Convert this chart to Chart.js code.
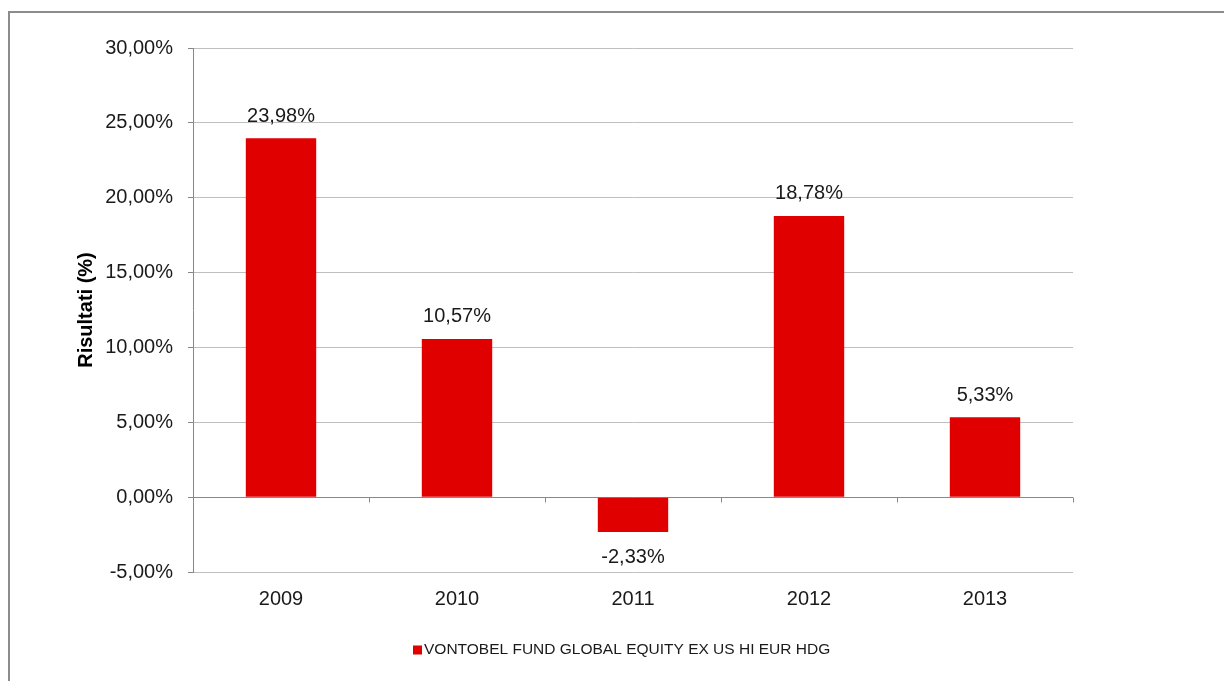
<!DOCTYPE html>
<html>
<head>
<meta charset="utf-8">
<script src="https://cdn.jsdelivr.net/npm/chart.js@4"></script>
<style>
  html, body { margin: 0; padding: 0; background: #fff; }
  #wrap { width: 1224px; height: 681px; }
</style>
</head>
<body>
<div id="wrap"><canvas id="canvas-1" width="1224" height="681"></canvas></div>
<script>
const anni = ['2009', '2010', '2011', '2012', '2013'];
const risultati = [23.98, 10.57, -2.33, 18.78, 5.33];
const nomeSerie = 'VONTOBEL FUND GLOBAL EQUITY EX US HI EUR HDG';
const yMin = -5, yMax = 30, yStep = 5;

const font = '"Liberation Sans", Arial, sans-serif';
const rosso = '#e00000';

function fmt(v) {
    return v.toFixed(2).replace('.', ',') + '%';
}

// cornice grigia attorno al grafico
const cornice = {
    id: 'cornice',
    beforeDraw(c) {
        const ctx = c.ctx;
        ctx.save();
        ctx.strokeStyle = '#8c8c8c';
        ctx.lineWidth = 2;
        ctx.strokeRect(9, 12, 1400, 1000);
        ctx.restore();
    }
};

// tacche sull'asse dello zero + etichette dei valori + legenda
const extra = {
    id: 'extra',
    afterDatasetsDraw(c) {
        const ctx = c.ctx, x = c.scales.x, y = c.scales.y;
        const y0 = Math.round(y.getPixelForValue(0)) + 0.5;
        ctx.save();
        ctx.strokeStyle = '#888';
        ctx.lineWidth = 1;
        const passo = x.getPixelForValue(1) - x.getPixelForValue(0);
        for (let i = 0; i <= anni.length; i++) {
            const px = Math.round(x.getPixelForValue(i) - passo / 2) + 0.5;
            ctx.beginPath();
            ctx.moveTo(px, y0);
            ctx.lineTo(px, y0 + 5);
            ctx.stroke();
        }
        ctx.fillStyle = '#1a1a1a';
        ctx.font = '20px ' + font;
        ctx.textAlign = 'center';
        ctx.textBaseline = 'middle';
        const meta = c.getDatasetMeta(0);
        meta.data.forEach((bar, i) => {
            const v = risultati[i];
            const py = v >= 0 ? bar.y - 22 : bar.y + 25;
            ctx.fillText(fmt(v), bar.x, py);
        });

        // legenda
        ctx.font = '15.5px ' + font;
        ctx.textAlign = 'left';
        const w = ctx.measureText(nomeSerie).width;
        const lx = Math.round(621.5 - (w + 11) / 2);
        const ly = 650;
        ctx.fillStyle = rosso;
        ctx.fillRect(lx, ly - 4.5, 9, 9);
        ctx.fillStyle = '#1a1a1a';
        ctx.fillText(nomeSerie, lx + 11, ly);
        ctx.restore();
    }
};

const ctx = document.getElementById('canvas-1').getContext('2d');
const chart = new Chart(ctx, {
    type: 'bar',
    data: {
        labels: anni,
        datasets: [{
            label: nomeSerie,
            data: risultati,
            backgroundColor: rosso,
            borderWidth: 0,
            categoryPercentage: 1,
            barPercentage: 0.4
        }]
    },
    options: {
        responsive: false,
        animation: false,
        layout: { padding: { left: 70, top: 48, right: 151, bottom: 50 } },
        plugins: {
            tooltip: { enabled: false },
            legend: { display: false }
        },
        scales: {
            x: {
                grid: { display: false, drawTicks: false },
                border: { display: false },
                ticks: {
                    padding: 15,
                    color: '#1a1a1a',
                    font: { family: font, size: 20 }
                },
                afterFit(s) { s.height = 59; }
            },
            y: {
                min: yMin,
                max: yMax,
                ticks: {
                    stepSize: yStep,
                    padding: 15,
                    color: '#1a1a1a',
                    font: { family: font, size: 20 },
                    callback: v => fmt(v)
                },
                grid: {
                    color: c => c.tick && c.tick.value === 0 ? '#888' : '#bfbfbf',
                    tickColor: '#888',
                    tickLength: 5
                },
                border: { display: true, color: '#888' },
                title: {
                    display: true,
                    text: 'Risultati (%)',
                    color: '#000',
                    font: { family: font, size: 20, weight: 'bold' },
                    padding: { top: 4, bottom: 4 }
                },
                afterFit(s) { s.width = 123; }
            }
        }
    },
    plugins: [cornice, extra]
});
</script>
</body>
</html>
